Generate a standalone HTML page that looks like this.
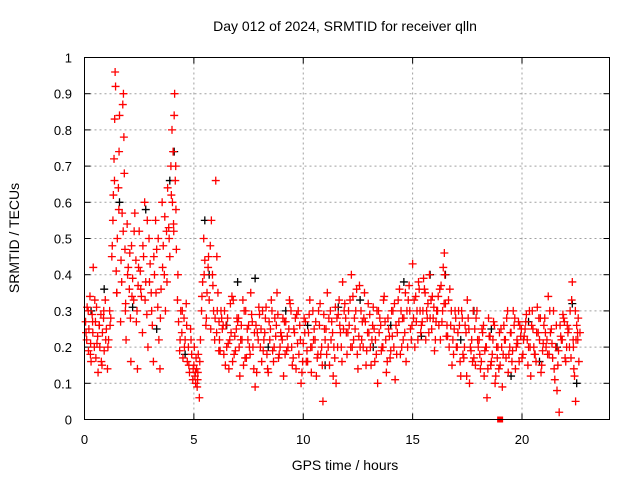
<!DOCTYPE html>
<html><head><meta charset="utf-8"><style>
body{margin:0;background:#fff}
svg{display:block;font-family:"Liberation Sans",sans-serif}
</style></head><body>
<svg id="chart" width="640" height="480" viewBox="0 0 640 480">
<rect width="640" height="480" fill="#fff"/>
<text x="345" y="31" font-size="14" text-anchor="middle">Day 012 of 2024, SRMTID for receiver qlln</text>
<text x="345" y="470" font-size="14" text-anchor="middle">GPS time / hours</text>
<text transform="translate(19,238) rotate(-90)" font-size="14" text-anchor="middle">SRMTID / TECUs</text>
<g id="grid"></g><g id="ticks"></g><g id="black"></g><g id="red"></g>
<rect x="84.5" y="57.5" width="525" height="362" fill="none" stroke="#000" stroke-width="1"/>
</svg>
<script>
const xTicks=[0,5,10,15,20];
const yTicks=[0,0.1,0.2,0.3,0.4,0.5,0.6,0.7,0.8,0.9,1];
const yLabels=["0","0.1","0.2","0.3","0.4","0.5","0.6","0.7","0.8","0.9","1"];
const redT=[0.05,0.1,0.12,0.18,0.2,0.25,0.28,0.3,0.35,0.38,0.4,0.45,0.5,0.52,0.55,0.6,0.62,0.68,0.7,0.75,0.8,0.82,0.88,0.9,0.95,1.0,1.05,1.1,1.15,1.2,1.25,1.3,1.32,1.35,1.38,1.4,1.42,1.45,1.48,1.5,1.55,1.58,1.6,1.65,1.7,1.72,1.75,1.78,1.8,1.82,1.85,1.88,1.9,1.95,2.0,2.05,2.1,2.12,2.15,2.2,2.25,2.3,2.35,2.4,2.42,2.45,2.5,2.55,2.6,2.65,2.7,2.75,2.8,2.85,2.9,2.95,3.0,3.05,3.1,3.15,3.2,3.25,3.3,3.35,3.4,3.45,3.5,3.55,3.6,3.65,3.7,3.75,3.8,3.85,3.9,3.95,4.0,4.02,4.05,4.08,4.1,4.12,4.15,4.18,4.2,4.25,4.3,4.35,4.4,4.45,4.5,4.55,4.6,4.65,4.7,4.75,4.8,4.85,4.9,4.95,5.0,5.02,5.05,5.08,5.1,5.12,5.15,5.18,5.2,5.25,5.3,5.35,5.4,5.45,5.5,5.55,5.6,5.65,5.7,5.75,5.8,5.85,5.9,5.95,6.0,6.05,6.1,6.15,6.2,6.3,6.4,6.5,6.6,6.7,6.8,6.9,7.0,7.1,7.2,7.3,7.4,7.5,7.6,7.7,7.8,7.9,8.0,8.1,8.2,8.3,8.4,8.5,8.6,8.7,8.8,8.9,9.0,9.1,9.2,9.3,9.4,9.5,9.6,9.7,9.8,9.9,10.0,10.1,10.2,10.3,10.4,10.5,10.6,10.7,10.8,10.9,11.0,11.1,11.2,11.3,11.4,11.5,11.6,11.7,11.8,11.9,12.0,12.1,12.2,12.3,12.4,12.5,12.6,12.7,12.8,12.9,13.0,13.1,13.2,13.3,13.4,13.5,13.6,13.7,13.8,13.9,14.0,14.1,14.2,14.3,14.4,14.5,14.6,14.7,14.8,14.9,15.0,15.1,15.2,15.3,15.4,15.5,15.6,15.7,15.8,15.9,16.0,16.1,16.2,16.3,16.4,16.45,16.5,16.6,16.7,16.8,16.9,17.0,17.1,17.2,17.3,17.4,17.5,17.6,17.7,17.8,17.9,18.0,18.1,18.2,18.3,18.4,18.5,18.6,18.7,18.8,18.9,19.0,19.1,19.2,19.3,19.4,19.5,19.6,19.7,19.8,19.9,20.0,20.1,20.2,20.3,20.4,20.5,20.6,20.7,20.8,20.9,21.0,21.1,21.2,21.3,21.4,21.5,21.6,21.7,21.8,21.9,22.0,22.1,22.2,22.3,22.35,22.4,22.45,22.5,22.55,22.6,22.65];
const redV=[.27,.22,.31,.19,.25,.34,.21,.16,.29,.24,.42,.2,.27,.17,.31,.23,.13,.26,.2,.29,.15,.24,.3,.19,.33,.25,.14,.22,.3,.28,.45,.55,.62,.72,.83,.96,.92,.41,.35,.5,.64,.74,.84,.27,.38,.57,.87,.9,.78,.68,.47,.32,.22,.54,.42,.36,.28,.16,.48,.39,.33,.57,.44,.3,.14,.37,.52,.41,.34,.24,.45,.6,.38,.29,.2,.5,.43,.35,.26,.16,.4,.55,.47,.31,.22,.14,.36,.6,.48,.4,.3,.52,.64,.53,.45,.7,.8,.6,.74,.52,.84,.9,.66,.58,.47,.33,.27,.19,.3,.24,.17,.28,.22,.32,.16,.2,.13,.25,.18,.11,.15,.2,.12,.1,.17,.14,.09,.13,.18,.06,.22,.3,.38,.5,.44,.26,.35,.42,.33,.48,.55,.4,.3,.22,.66,.45,.35,.27,.19,.25,.3,.2,.14,.24,.33,.19,.27,.12,.22,.3,.17,.26,.35,.2,.09,.24,.29,.16,.22,.31,.13,.25,.19,.28,.35,.18,.23,.12,.27,.2,.32,.15,.24,.29,.18,.1,.21,.27,.16,.33,.2,.25,.12,.3,.18,.05,.22,.35,.15,.27,.2,.1,.29,.24,.38,.32,.18,.26,.4,.22,.3,.14,.2,.27,.35,.19,.24,.15,.31,.22,.1,.28,.2,.34,.13,.25,.19,.3,.11,.24,.36,.2,.28,.16,.33,.25,.43,.2,.3,.36,.26,.39,.22,.32,.28,.34,.19,.3,.26,.37,.42,.46,.32,.23,.36,.15,.25,.2,.3,.12,.18,.26,.33,.1,.22,.17,.28,.2,.14,.24,.19,.06,.23,.16,.27,.12,.2,.15,.09,.22,.28,.18,.24,.3,.14,.21,.26,.17,.23,.29,.2,.12,.25,.18,.31,.22,.15,.26,.2,.34,.24,.17,.11,.08,.02,.22,.28,.16,.24,.3,.38,.2,.12,.05,.26,.22,.16,.24];
const redT2=[0.07,0.17,0.27,0.37,0.47,0.57,0.67,0.77,0.87,0.97,1.07,1.17,1.27,1.37,1.47,1.57,1.67,1.77,1.87,1.97,2.07,2.17,2.27,2.37,2.47,2.57,2.67,2.77,2.87,2.97,3.07,3.17,3.27,3.37,3.47,3.57,3.67,3.77,3.87,3.97,4.07,4.17,4.27,4.37,4.47,4.57,4.67,4.77,4.87,4.97,5.07,5.17,5.27,5.37,5.47,5.57,5.67,5.77,5.87,5.97,6.07,6.17,6.27,6.37,6.47,6.57,6.67,6.77,6.87,6.97,7.07,7.17,7.27,7.37,7.47,7.57,7.67,7.77,7.87,7.97,8.07,8.17,8.27,8.37,8.47,8.57,8.67,8.77,8.87,8.97,9.07,9.17,9.27,9.37,9.47,9.57,9.67,9.77,9.87,9.97,10.07,10.17,10.27,10.37,10.47,10.57,10.67,10.77,10.87,10.97,11.07,11.17,11.27,11.37,11.47,11.57,11.67,11.77,11.87,11.97,12.07,12.17,12.27,12.37,12.47,12.57,12.67,12.77,12.87,12.97,13.07,13.17,13.27,13.37,13.47,13.57,13.67,13.77,13.87,13.97,14.07,14.17,14.27,14.37,14.47,14.57,14.67,14.77,14.87,14.97,15.07,15.17,15.27,15.37,15.47,15.57,15.67,15.77,15.87,15.97,16.07,16.17,16.27,16.37,16.47,16.57,16.67,16.77,16.87,16.97,17.07,17.17,17.27,17.37,17.47,17.57,17.67,17.77,17.87,17.97,18.07,18.17,18.27,18.37,18.47,18.57,18.67,18.77,18.87,18.97,19.07,19.17,19.27,19.37,19.47,19.57,19.67,19.77,19.87,19.97,20.07,20.17,20.27,20.37,20.47,20.57,20.67,20.77,20.87,20.97,21.07,21.17,21.27,21.37,21.47,21.57,21.67,21.77,21.87,21.97,22.07,22.17,22.27,22.37,22.47,22.57];
const redV2=[.24,.3,.18,.27,.33,.21,.26,.16,.28,.22,.2,.26,.48,.66,.35,.58,.44,.52,.3,.4,.46,.34,.52,.27,.42,.36,.48,.33,.55,.38,.3,.45,.35,.5,.28,.42,.56,.38,.5,.62,.54,.7,.4,.22,.3,.2,.26,.15,.22,.14,.13,.11,.16,.34,.4,.28,.45,.25,.37,.28,.3,.22,.28,.18,.26,.21,.32,.16,.23,.28,.2,.26,.15,.3,.22,.18,.27,.24,.13,.31,.25,.19,.28,.14,.22,.3,.2,.26,.17,.24,.28,.18,.23,.33,.2,.25,.14,.3,.22,.16,.24,.19,.29,.13,.22,.27,.18,.32,.15,.25,.18,.28,.22,.12,.31,.2,.26,.16,.3,.24,.3,.2,.34,.25,.18,.37,.22,.28,.15,.32,.2,.26,.16,.3,.24,.19,.33,.22,.28,.17,.23,.32,.18,.27,.3,.22,.35,.2,.3,.26,.33,.27,.38,.24,.3,.35,.28,.4,.25,.31,.27,.34,.22,.3,.4,.26,.2,.3,.18,.28,.24,.16,.28,.2,.12,.25,.19,.3,.15,.22,.18,.25,.12,.2,.28,.15,.22,.1,.17,.24,.2,.26,.17,.13,.24,.19,.28,.22,.16,.25,.22,.27,.15,.2,.3,.18,.24,.28,.13,.21,.24,.18,.3,.21,.14,.26,.19,.23,.29,.17,.26,.2,.33,.14,.22,.28];
const redT3=[6.04,6.14,6.24,6.34,6.44,6.54,6.64,6.74,6.84,6.94,7.04,7.14,7.24,7.34,7.44,7.54,7.64,7.74,7.84,7.94,8.04,8.14,8.24,8.34,8.44,8.54,8.64,8.74,8.84,8.94,9.04,9.14,9.24,9.34,9.44,9.54,9.64,9.74,9.84,9.94,10.04,10.14,10.24,10.34,10.44,10.54,10.64,10.74,10.84,10.94,11.04,11.14,11.24,11.34,11.44,11.54,11.64,11.74,11.84,11.94,12.04,12.14,12.24,12.34,12.44,12.54,12.64,12.74,12.84,12.94,13.04,13.14,13.24,13.34,13.44,13.54,13.64,13.74,13.84,13.94,14.04,14.14,14.24,14.34,14.44,14.54,14.64,14.74,14.84,14.94,15.04,15.14,15.24,15.34,15.44,15.54,15.64,15.74,15.84,15.94,16.04,16.14,16.24,16.34,16.44,16.54,16.64,16.74,16.84,16.94,17.04,17.14,17.24,17.34,17.44,17.54,17.64,17.74,17.84,17.94,18.04,18.14,18.24,18.34,18.44,18.54,18.64,18.74,18.84,18.94,19.04,19.14,19.24,19.34,19.44,19.54,19.64,19.74,19.84,19.94,20.04,20.14,20.24,20.34,20.44,20.54,20.64,20.74,20.84,20.94,21.04,21.14,21.24,21.34,21.44,21.54,21.64,21.74,21.84,21.94,22.04,22.14,22.24,22.34,22.44,22.54];
const redV3=[.24,.19,.3,.26,.15,.28,.22,.34,.18,.25,.28,.22,.33,.17,.25,.2,.29,.14,.26,.22,.2,.3,.24,.18,.27,.33,.16,.23,.29,.2,.22,.27,.19,.25,.3,.17,.28,.21,.26,.13,.28,.16,.24,.2,.3,.22,.17,.26,.2,.29,.25,.2,.3,.24,.17,.28,.33,.2,.25,.28,.24,.33,.2,.28,.36,.23,.3,.2,.27,.24,.29,.22,.25,.18,.3,.26,.2,.27,.16,.23,.3,.2,.26,.33,.18,.28,.24,.3,.37,.22,.28,.34,.22,.3,.27,.36,.3,.24,.33,.28,.22,.3,.36,.27,.32,.23,.33,.26,.22,.3,.2,.26,.3,.17,.24,.28,.2,.16,.25,.3,.22,.16,.26,.2,.14,.23,.18,.26,.2,.14,.25,.18,.22,.3,.2,.16,.26,.2,.27,.23,.18,.25,.22,.3,.26,.2,.16,.24,.28,.19,.28,.22,.18,.25,.3,.2,.15,.26,.22,.27,.2,.25,.17,.22,.3,.24];
const blackT=[0.3,0.9,1.6,2.2,2.8,3.3,3.9,4.1,4.6,5.5,5.7,6.5,7.0,7.8,8.4,9.2,10.2,11.0,11.6,12.6,13.2,14.0,14.6,15.4,15.8,16.5,17.2,17.8,18.6,19.5,20.3,20.8,21.6,22.3,22.5];
const blackV=[.3,.36,.6,.31,.58,.25,.66,.74,.18,.55,.4,.26,.38,.39,.2,.3,.26,.15,.31,.33,.2,.26,.38,.23,.4,.4,.22,.3,.25,.12,.27,.16,.2,.32,.1];
const squareT=[19.0], squareV=[0.0];
const X0=84.5,X1=609.5,Y0=419.5,Y1=57.5,XMAX=24;
const sx=t=>X0+t/XMAX*(X1-X0), sy=v=>Y0-v*(Y0-Y1);
const NS="http://www.w3.org/2000/svg";
function mk(tag,attrs,parent){const e=document.createElementNS(NS,tag);for(const k in attrs)e.setAttribute(k,attrs[k]);parent.appendChild(e);return e;}
const grid=document.getElementById('grid'),ticks=document.getElementById('ticks');
xTicks.forEach(t=>{const x=sx(t);
 if(t>0){const g=mk('line',{x1:x,x2:x,y1:Y1,y2:Y0,stroke:'#a0a0a0','stroke-dasharray':'2,3'},grid);
 
 }
 mk('line',{x1:x,x2:x,y1:Y0,y2:Y0-6,stroke:'#000'},ticks);
 mk('line',{x1:x,x2:x,y1:Y1,y2:Y1+6,stroke:'#000'},ticks);
 const l=mk('text',{x:x,y:444,'font-size':13,'text-anchor':'middle'},ticks);l.textContent=t;
 
 });
yTicks.forEach((v,i)=>{const y=sy(v);
 if(v>0&&v<1){const g=mk('line',{x1:X0,x2:X1,y1:y,y2:y,stroke:'#a0a0a0','stroke-dasharray':'2,3'},grid);
 
 }
 mk('line',{x1:X0,x2:X0+6,y1:y,y2:y,stroke:'#000'},ticks);
 mk('line',{x1:X1,x2:X1-6,y1:y,y2:y,stroke:'#000'},ticks);
 const l=mk('text',{x:72,y:y+5,'font-size':13,'text-anchor':'end'},ticks);l.textContent=yLabels[i];
 
 });
function plus(T,V,color,gid,name){const g=document.getElementById(gid);
 T.forEach((t,i)=>{const x=sx(t),y=sy(V[i]);
  const p=mk('path',{d:`M${x-4},${y}H${x+4}M${x},${y-4}V${y+4}`,stroke:color,'stroke-width':1.3,fill:'none'},g);
  
  });}
plus(blackT,blackV,'#000','black','black-point');
plus(redT,redV,'#f00','red','red-point');
plus(redT2,redV2,'#f00','red','red-point');
plus(redT3,redV3,'#f00','red','red-point');
squareT.forEach((t,i)=>{const r=mk('rect',{x:sx(t)-3,y:sy(squareV[i])-3,width:6,height:6,fill:'#f00'},document.getElementById('red'));
 
 });
</script>
</body></html>
